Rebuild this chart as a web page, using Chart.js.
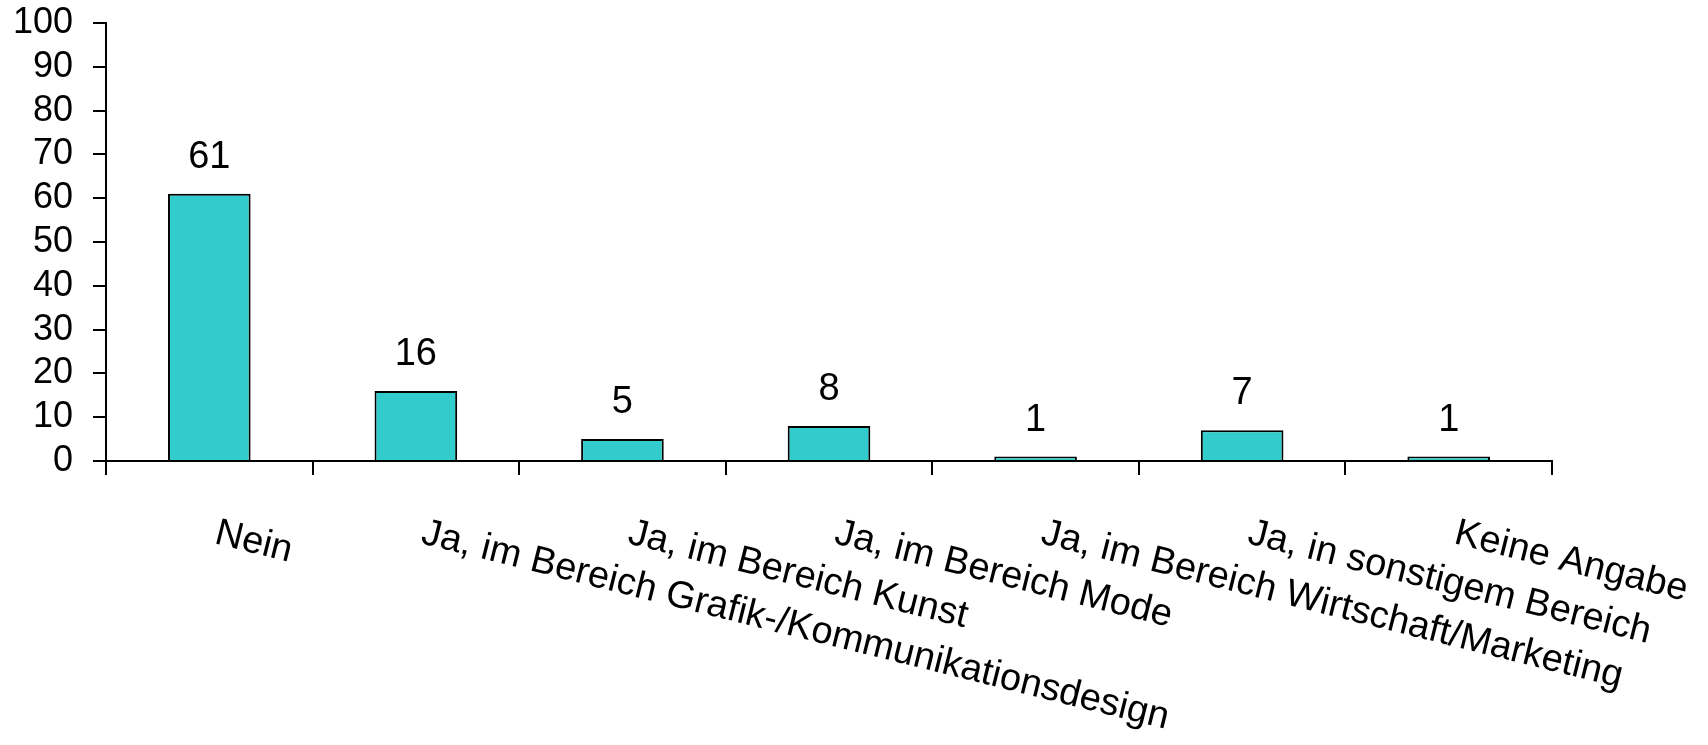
<!DOCTYPE html>
<html>
<head>
<meta charset="utf-8">
<script src="https://cdn.jsdelivr.net/npm/chart.js@4"></script>
<style>
  html, body { margin: 0; padding: 0; background: #fff; }
  #wrap { width: 1708px; height: 745px; position: relative; }
</style>
</head>
<body>
<div id="wrap"><canvas id="chart"></canvas></div>
<script>
const categories = ['Nein', 'Ja, im Bereich Grafik-/Kommunikationsdesign', 'Ja, im Bereich Kunst',
  'Ja, im Bereich Mode', 'Ja, im Bereich Wirtschaft/Marketing', 'Ja, in sonstigem Bereich', 'Keine Angabe'];
const values = [61, 16, 5, 8, 1, 7, 1];
const yTicks = [0, 10, 20, 30, 40, 50, 60, 70, 80, 90, 100];

const font = 'Liberation Sans, Arial, sans-serif';

// value labels above the bars
const valueLabels = {
  id: 'valueLabels',
  afterDatasetsDraw(chart) {
    const ctx = chart.ctx;
    const meta = chart.getDatasetMeta(0);
    ctx.save();
    ctx.font = '38px ' + font;
    ctx.fillStyle = '#000';
    ctx.textAlign = 'center';
    ctx.textBaseline = 'alphabetic';
    meta.data.forEach((bar, i) => {
      ctx.fillText(String(values[i]), bar.x, bar.y - 26);
    });
    ctx.restore();
  }
};

// category labels, turned clockwise like the original
const slantLabels = {
  id: 'slantLabels',
  afterDraw(chart) {
    const ctx = chart.ctx;
    const xs = chart.scales.x;
    ctx.save();
    ctx.font = '38px ' + font;
    ctx.fillStyle = '#000';
    ctx.textAlign = 'left';
    ctx.textBaseline = 'alphabetic';
    categories.forEach((c, i) => {
      ctx.save();
      ctx.translate(xs.getPixelForValue(i) + 4, xs.top + 82);
      ctx.rotate(14 * Math.PI / 180);
      ctx.fillText(c, 0, 0);
      ctx.restore();
    });
    ctx.restore();
  }
};

new Chart(document.getElementById('chart'), {
  type: 'bar',
  data: {
    labels: categories,
    datasets: [{
      data: values,
      backgroundColor: '#33CCCC',
      borderColor: '#000',
      borderWidth: 2,
      barPercentage: 0.4,
      categoryPercentage: 1
    }]
  },
  options: {
    responsive: true,
    maintainAspectRatio: false,
    animation: false,
    layout: { padding: { top: 23, right: 156, left: 0, bottom: 0 } },
    plugins: { legend: { display: false }, tooltip: { enabled: false } },
    scales: {
      x: {
        afterFit(s) { s.height = 745 - 461; s.paddingLeft = 0; s.paddingRight = 0; },
        ticks: { display: false },
        grid: { offset: true, drawOnChartArea: false, color: '#000', lineWidth: 2, tickLength: 14 },
        border: { color: '#000', width: 2 }
      },
      y: {
        min: 0,
        max: 100,
        afterFit(s) { s.width = 106; s.paddingTop = 0; s.paddingBottom = 0; },
        afterBuildTicks(s) { s.ticks = yTicks.map(v => ({ value: v })); },
        ticks: { color: '#000', padding: 20, autoSkip: false, font: { size: 36, family: font } },
        grid: { drawOnChartArea: false, color: '#000', lineWidth: 2, tickLength: 13 },
        border: { color: '#000', width: 2 }
      }
    }
  },
  plugins: [valueLabels, slantLabels]
});
</script>
</body>
</html>
